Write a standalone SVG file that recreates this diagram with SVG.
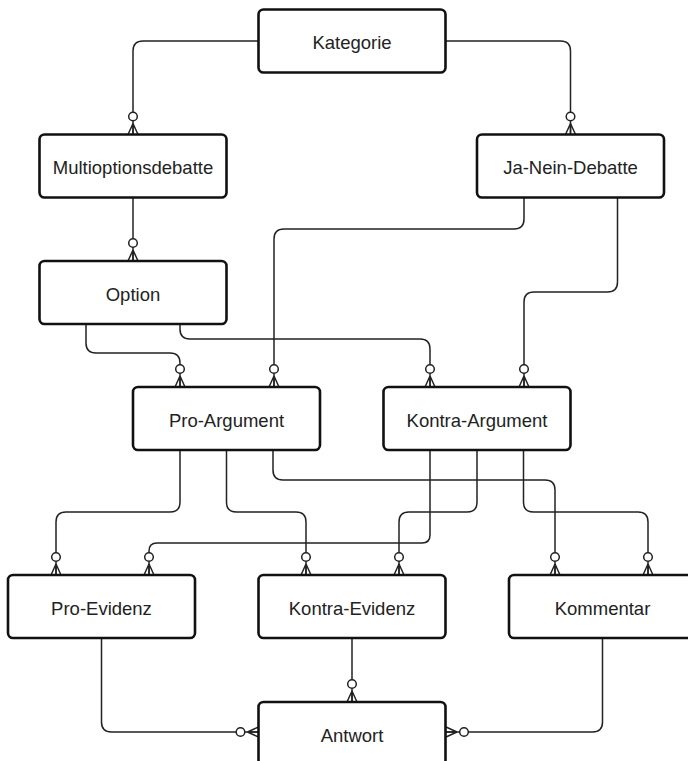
<svg xmlns="http://www.w3.org/2000/svg" width="688" height="761" viewBox="0 0 688 761">
<style>
.box{fill:#fff;stroke:#111;stroke-width:2.6}
.lbl{font-family:"Liberation Sans",Arial,sans-serif;font-size:18.5px;fill:#222;text-anchor:middle}
.con{fill:none;stroke:#222;stroke-width:1.5;marker-end:url(#zm)}
</style>
<defs>
<marker id="zm" markerUnits="userSpaceOnUse" markerWidth="30" markerHeight="14" refX="26" refY="7" orient="auto" overflow="visible">
<circle cx="8" cy="7" r="4.3" fill="#fff" stroke="#222" stroke-width="1.5"/>
<path d="M15,7 L26,2 M15,7 L26,12 M15,7 L26,7" fill="none" stroke="#222" stroke-width="1.5"/>
</marker>
</defs>
<rect width="688" height="761" fill="#fff"/>
<g id="connectors">
<path class="con" d="M258.5,41 H143 Q133,41 133,51 V134.5"/>
<path class="con" d="M446,41 H560.5 Q570.5,41 570.5,51 V134.5"/>
<path class="con" d="M133,198 V261"/>
<path class="con" d="M86,324 V343 Q86,353 96,353 H170 Q180,353 180,363 V387"/>
<path class="con" d="M180,324 V329 Q180,339 190,339 H420 Q430,339 430,349 V387"/>
<path class="con" d="M524,198 V219 Q524,229 514,229 H284 Q274,229 274,239 V387"/>
<path class="con" d="M617.5,198 V282 Q617.5,292 607.5,292 H534 Q524,292 524,302 V387"/>
<path class="con" d="M180,450 V502 Q180,512 170,512 H66 Q56,512 56,522 V575"/>
<path class="con" d="M226.5,450 V502 Q226.5,512 236.5,512 H296 Q306,512 306,522 V575"/>
<path class="con" d="M273,450 V470 Q273,480 283,480 H545 Q555,480 555,490 V575"/>
<path class="con" d="M430,450 V535 Q430,543 422,543 H157 Q149,543 149,551 V575"/>
<path class="con" d="M477,450 V502 Q477,512 467,512 H409 Q399,512 399,522 V575"/>
<path class="con" d="M523.5,450 V502 Q523.5,512 533.5,512 H638 Q648,512 648,522 V575"/>
<path class="con" d="M101.5,638 V722 Q101.5,732 111.5,732 H258.5"/>
<path class="con" d="M352,638 V702"/>
<path class="con" d="M602.5,638 V722 Q602.5,732 592.5,732 H446"/>
</g>
<g id="n-kategorie"><rect class="box" x="258.5" y="9.5" width="187" height="63" rx="5"/><text class="lbl" x="352" y="49">Kategorie</text></g>
<g id="n-multioptionsdebatte"><rect class="box" x="39.5" y="134.5" width="187" height="63" rx="5"/><text class="lbl" x="133" y="174">Multioptionsdebatte</text></g>
<g id="n-janeindebatte"><rect class="box" x="477" y="134.5" width="187" height="63" rx="5"/><text class="lbl" x="570.5" y="174">Ja-Nein-Debatte</text></g>
<g id="n-option"><rect class="box" x="39.5" y="261" width="187" height="63" rx="5"/><text class="lbl" x="133" y="300.5">Option</text></g>
<g id="n-proargument"><rect class="box" x="133" y="387" width="187" height="63" rx="5"/><text class="lbl" x="226.5" y="426.5">Pro-Argument</text></g>
<g id="n-kontraargument"><rect class="box" x="383.5" y="387" width="187" height="63" rx="5"/><text class="lbl" x="477" y="426.5">Kontra-Argument</text></g>
<g id="n-proevidenz"><rect class="box" x="8" y="575" width="187" height="63" rx="5"/><text class="lbl" x="101.5" y="614.5">Pro-Evidenz</text></g>
<g id="n-kontraevidenz"><rect class="box" x="258.5" y="575" width="187" height="63" rx="5"/><text class="lbl" x="352" y="614.5">Kontra-Evidenz</text></g>
<g id="n-kommentar"><rect class="box" x="509" y="575" width="187" height="63" rx="5"/><text class="lbl" x="602.5" y="614.5">Kommentar</text></g>
<g id="n-antwort"><rect class="box" x="258.5" y="702" width="187" height="63" rx="5"/><text class="lbl" x="352" y="741.5">Antwort</text></g>
</svg>
